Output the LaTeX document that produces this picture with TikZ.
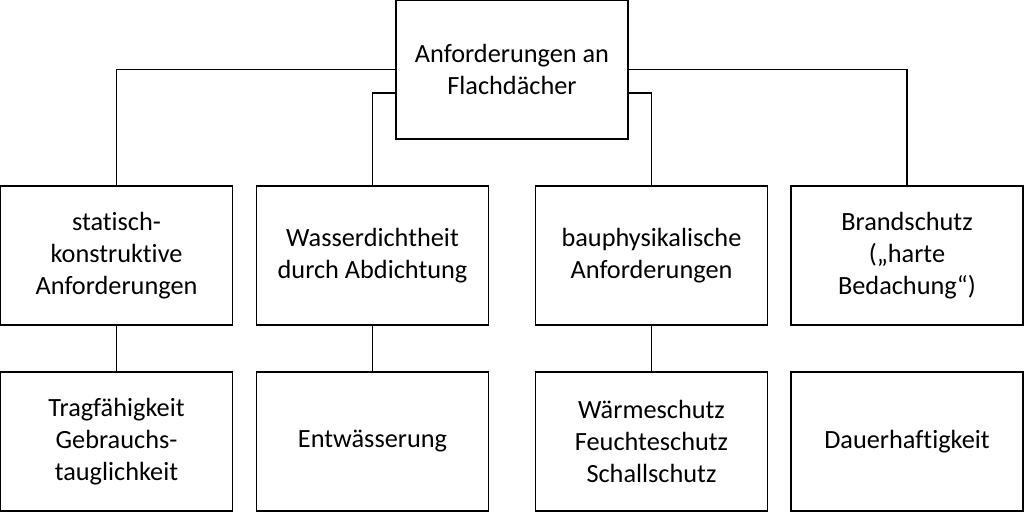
\documentclass[tikz,border=0pt]{standalone}
\usepackage{fontspec}
\setmainfont[Ligatures=NoCommon]{Carlito}
\usetikzlibrary{calc}

\newcommand{\pxu}{*0.025cm}
\tikzset{
  box/.style={draw, line width=0.9pt, align=center, minimum width=232\pxu, minimum height=139\pxu, inner sep=2pt,
    font=\fontsize{18.7}{22.7}\selectfont},
  link/.style={line width=0.9pt}
}

\begin{document}
\begin{tikzpicture}[x=0.025cm, y=-0.025cm]
            \useasboundingbox (0,0) rectangle (1024,512);

            % Define boxes
            \node[box] (top) at (512,69.5) {Anforderungen an\\Flachdächer};

            \node[box] (stat) at (116.5,255.5) {statisch-\\konstruktive\\Anforderungen};
            \node[box] (wasser) at (372.5,255.5) {Wasserdichtheit\\durch Abdichtung};
            \node[box] (bauph) at (651.5,255.5) {bauphysikalische\\Anforderungen};
            \node[box] (brand) at (907,255.5) {Brandschutz\\(„harte\\Bedachung“)};

            \node[box] (trag) at (116.5,441.5) {Tragfähigkeit\\Gebrauchs-\\tauglichkeit};
            \node[box] (entw) at (372.5,441.5) {Entwässerung};
            \node[box] (waerme) at (651.5,441.5) {Wärmeschutz\\Feuchteschutz\\Schallschutz};
            \node[box] (dauer) at (907,441.5) {Dauerhaftigkeit};

            % Draw connectors
            \draw[link] (top.west) -| (stat.north);
            \draw[link] (top.east) -| (brand.north);
            \draw[link] ($(top.west)+(0,23.5)$) -| (wasser.north);
            \draw[link] ($(top.east)+(0,23.5)$) -| (bauph.north);

            \draw[link] (stat) -- (trag);
            \draw[link] (wasser) -- (entw);
            \draw[link] (bauph) -- (waerme);
        \end{tikzpicture}
\end{document}
